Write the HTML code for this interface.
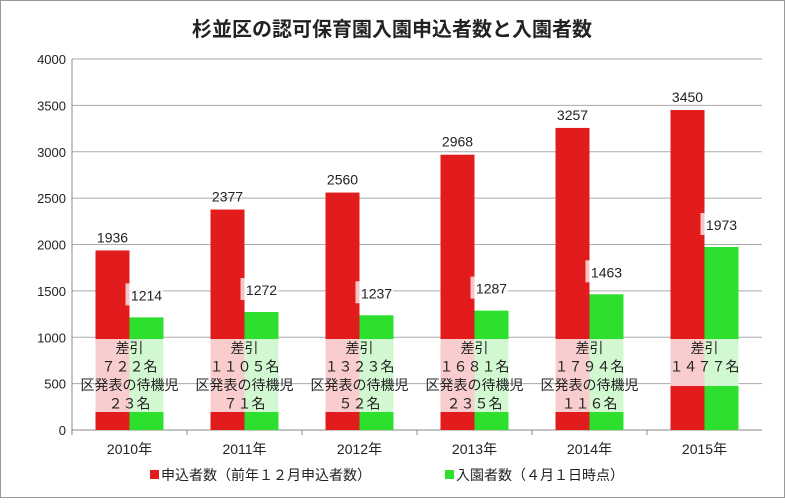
<!DOCTYPE html>
<html><head><meta charset="utf-8"><style>
body{margin:0;background:#fff}
svg text{font-family:"Liberation Sans","Noto Sans CJK JP",sans-serif}
</style></head><body>
<svg width="785" height="498" viewBox="0 0 785 498" xmlns="http://www.w3.org/2000/svg">
<rect x="0.5" y="0.5" width="784" height="497" fill="#fff" stroke="#999"/>
<text x="392" y="36" font-size="20" font-weight="bold" text-anchor="middle" fill="#222">杉並区の認可保育園入園申込者数と入園者数</text>
<g id="grid"></g><g id="bars"></g><g id="notes"></g><g id="labels"></g>
<g>
<rect x="150" y="470" width="9" height="9" fill="#e21c1c"/>
<text x="161" y="480" font-size="14" fill="#222">申込者数（前年１２月申込者数）</text>
<rect x="445" y="470" width="9" height="9" fill="#2ee02e"/>
<text x="456" y="480" font-size="14" fill="#222">入園者数（４月１日時点）</text>
</g>
</svg>
<script>
const categories=["2010年","2011年","2012年","2013年","2014年","2015年"];
const applicants=[1936,2377,2560,2968,3257,3450];
const admitted=[1214,1272,1237,1287,1463,1973];
const diffLabels=["７２２名","１１０５名","１３２３名","１６８１名","１７９４名","１４７７名"];
const waitLabels=["２３名","７１名","５２名","２３５名","１１６名",""];
const yTicks=[0,500,1000,1500,2000,2500,3000,3500,4000];
const NS="http://www.w3.org/2000/svg";
const x0=72,x1=762,y0=430,yTop=59,yMax=4000;
const y=v=>y0-(v/yMax)*(y0-yTop);
const bw=(x1-x0)/categories.length;
const cx=i=>x0+bw*i+bw/2;
function mk(p,t,a,txt){const e=document.createElementNS(NS,t);for(const k in a)e.setAttribute(k,a[k]);if(txt!==undefined)e.textContent=txt;document.getElementById(p).appendChild(e);return e;}
yTicks.forEach(v=>{
 let g=mk('grid','line',{x1:x0,x2:x1,y1:y(v),y2:y(v),stroke:v===0?'#888':'#aaa','stroke-width':1});
 
 
 let t=mk('grid','text',{x:x0-6,y:y(v)+5,'font-size':13,'text-anchor':'end',fill:'#222'},String(v));
 
 
});
mk('grid','line',{x1:x0,x2:x0,y1:yTop,y2:y0,stroke:'#888'});
categories.forEach((c,i)=>{
 const m=cx(i);
 let tk=mk('grid','line',{x1:x0+bw*i,x2:x0+bw*i,y1:y0,y2:y0+5,stroke:'#888'});
 
 
 let r=mk('bars','rect',{x:m-34,y:y(applicants[i]),width:34,height:y0-y(applicants[i]),fill:'#e21c1c'});
 
 
 let g=mk('bars','rect',{x:m,y:y(admitted[i]),width:34,height:y0-y(admitted[i]),fill:'#2ee02e'});
 
 
 let xl=mk('labels','text',{x:m,y:454,'font-size':14,'text-anchor':'middle',fill:'#222'},c);
 
 
 let la=mk('labels','text',{x:m-17,y:y(applicants[i])-8,'font-size':14,'text-anchor':'middle',fill:'#222'},String(applicants[i]));
 
 
 let bg=mk('labels','rect',{x:m-4,y:y(admitted[i])-34,width:38,height:22,fill:'#fff',opacity:0.75});
 
 
 let lb=mk('labels','text',{x:m+17,y:y(admitted[i])-17,'font-size':14,'text-anchor':'middle',fill:'#222'},String(admitted[i]));
 
 
 const hasWait=waitLabels[i]!=="";
 const nb=hasWait?412:386;
 let box=mk('notes','rect',{x:m-34,y:339,width:68,height:nb-339,fill:'#fff',opacity:0.78});
 
 
 const lines=hasWait?["差引",diffLabels[i],"区発表の待機児",waitLabels[i]]:["差引",diffLabels[i]];
 lines.forEach((s,j)=>{
  let t=mk('notes','text',{x:m,y:353+j*18.5,'font-size':14,'text-anchor':'middle',fill:'#222'},s);
  
  
 });
});
</script>
</body></html>
